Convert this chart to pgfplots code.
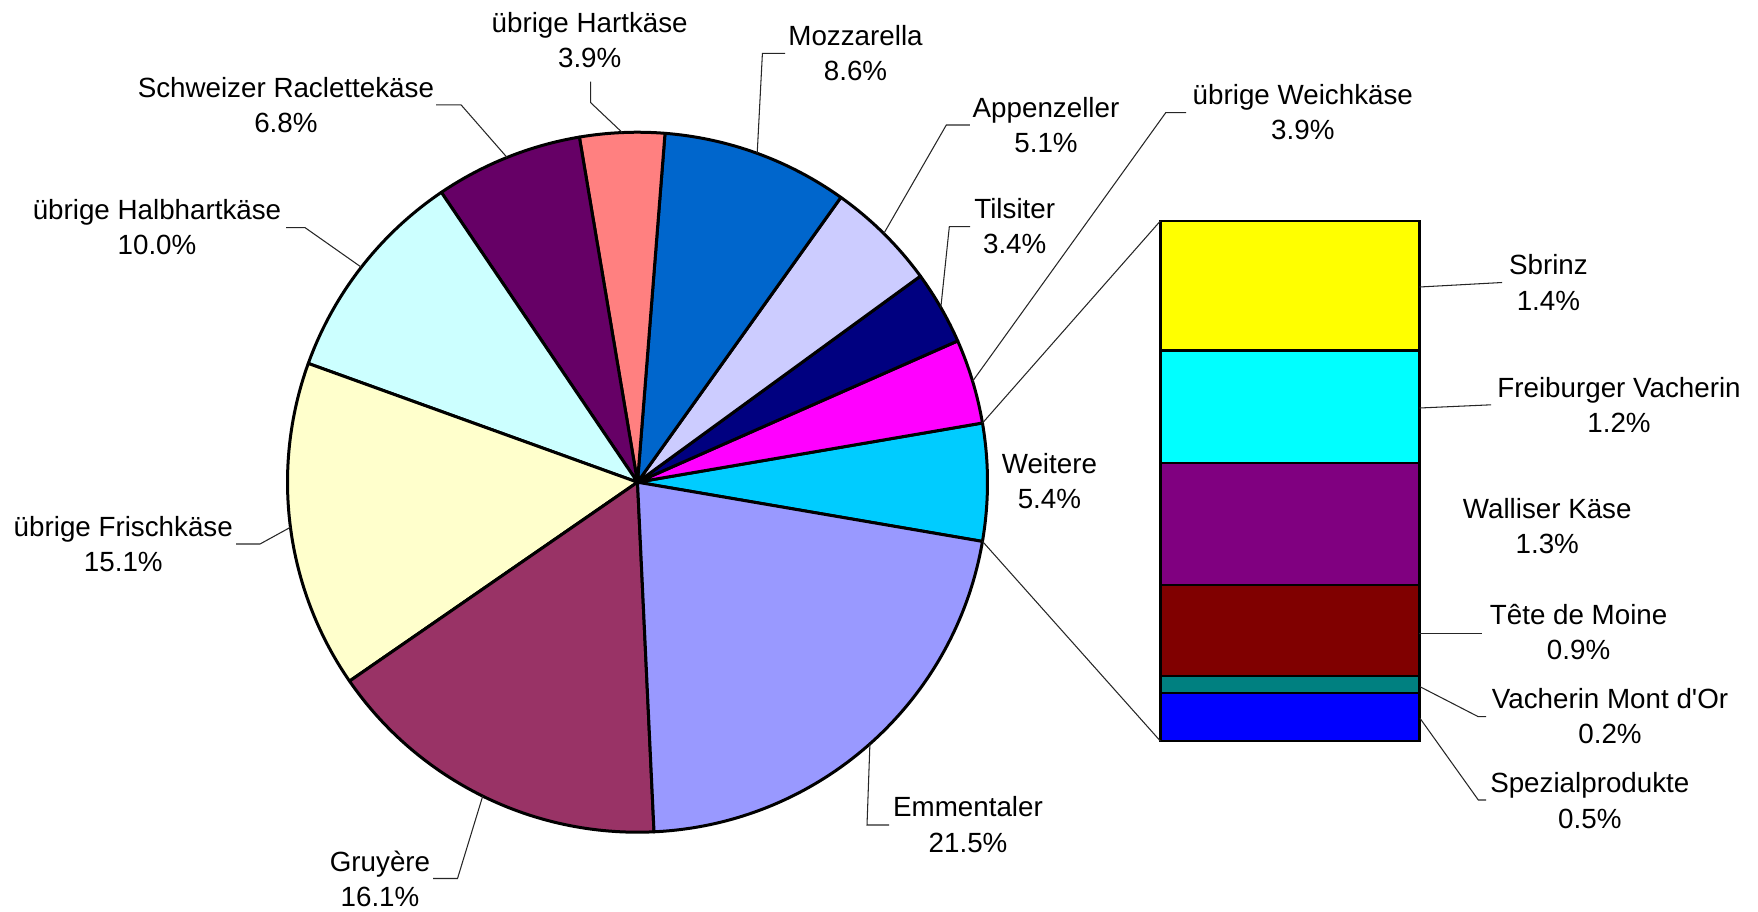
\documentclass[border=0pt]{standalone}
\usepackage{pgfplots}
\pgfplotsset{compat=1.18}
\usepackage{fontspec}
\setmainfont{Liberation Sans}[Ligatures=TeXOff]
\definecolor{cWeitere}{HTML}{00CCFF}
\definecolor{cWeich}{HTML}{FF00FF}
\definecolor{cTilsiter}{HTML}{000080}
\definecolor{cAppenzeller}{HTML}{CCCCFF}
\definecolor{cMozzarella}{HTML}{0066CC}
\definecolor{cHart}{HTML}{FF8080}
\definecolor{cRaclette}{HTML}{660066}
\definecolor{cHalbhart}{HTML}{CCFFFF}
\definecolor{cFrisch}{HTML}{FFFFCC}
\definecolor{cGruyere}{HTML}{993366}
\definecolor{cEmmentaler}{HTML}{9999FF}
\definecolor{cSbrinz}{HTML}{FFFF00}
\definecolor{cFreiburger}{HTML}{00FFFF}
\definecolor{cWalliser}{HTML}{800080}
\definecolor{cTete}{HTML}{800000}
\definecolor{cVMdO}{HTML}{008080}
\definecolor{cSpezial}{HTML}{0000FF}
% pie slice: value (percent), colour; total of the pie = 99.8
\newcommand{\slice}[2]{%
  \pgfmathsetmacro\endang{\startang+#1*360/99.8}%
  \edef\temp{\noexpand\filldraw[fill=#2,draw=black,line width=0.3mm,line join=round]
    (axis cs:0,0) -- (axis cs:{cos(\startang)},{sin(\startang)})
    arc[start angle=\startang,end angle=\endang,radius=35mm] -- cycle;}%
  \temp
  \global\let\startang\endang}
\begin{document}
\begin{tikzpicture}
\path[use as bounding box] (0,0) rectangle (175.8mm,91.1mm);
\gdef\startang{-9.739}
\begin{axis}[at={(63.75mm,42.88mm)},anchor=center,x=35mm,y=35mm,
  xmin=-1,xmax=1,ymin=-1,ymax=1,hide axis,clip=false]
\slice{5.4}{cWeitere}
\slice{3.9}{cWeich}
\slice{3.4}{cTilsiter}
\slice{5.1}{cAppenzeller}
\slice{8.6}{cMozzarella}
\slice{3.9}{cHart}
\slice{6.8}{cRaclette}
\slice{10.0}{cHalbhart}
\slice{15.1}{cFrisch}
\slice{16.1}{cGruyere}
\slice{21.5}{cEmmentaler}
\end{axis}
\begin{axis}[at={(116.04mm,16.99mm)},anchor=south west,scale only axis,
  width=25.9mm,height=52.02mm,xmin=-0.5,xmax=0.5,ymin=0,ymax=5.5,
  hide axis,ybar stacked,bar width=1,clip=false]
\addplot[fill=cSpezial,draw=black,line width=0.25mm] coordinates {(0,0.51)};
\addplot[fill=cVMdO,draw=black,line width=0.25mm] coordinates {(0,0.18)};
\addplot[fill=cTete,draw=black,line width=0.25mm] coordinates {(0,0.96)};
\addplot[fill=cWalliser,draw=black,line width=0.25mm] coordinates {(0,1.29)};
\addplot[fill=cFreiburger,draw=black,line width=0.25mm] coordinates {(0,1.19)};
\addplot[fill=cSbrinz,draw=black,line width=0.25mm] coordinates {(0,1.37)};
\end{axis}
\begin{scope}[x=0.1mm,y=-0.1mm,shift={(0mm,91.1mm)}]
\tikzset{lab/.style={align=center,font=\fontsize{7.9}{10}\selectfont,inner sep=0pt},
  leader/.style={draw=black!85,line width=0.3pt}}
% leader lines
\draw[leader] (622.2,132.5) -- (590.7,102.7) -- (590.7,81.7);
\draw[leader] (757.2,153.3) -- (762.4,53.3) -- (785,53.3);
\draw[leader] (507,157.4) -- (461,104.8) -- (436,104.8);
\draw[leader] (883.8,233.5) -- (946.3,125) -- (969.8,125);
\draw[leader] (972.6,381.2) -- (1165.7,112.7) -- (1186,112.7);
\draw[leader] (361.3,267.2) -- (305,227.6) -- (286,227.6);
\draw[leader] (940.8,307.6) -- (949.3,226.7) -- (970,226.7);
\draw[leader] (290.4,527.3) -- (260,544) -- (236,544);
\draw[leader] (869.9,743.9) -- (867,825) -- (889,825);
\draw[leader] (482.7,796.1) -- (457.5,878.5) -- (433,878.5);
\draw[leader] (1419.4,287) -- (1502,282.5);
\draw[leader] (1419.4,408) -- (1491,404.8);
\draw[leader] (1419.4,633.5) -- (1482,633.5);
\draw[leader] (1420,686.7) -- (1478.3,716.7) -- (1486,716.7);
\draw[leader] (1420,718.3) -- (1478.3,800) -- (1486,800);
% connectors
\draw[leader] (982.5,423) -- (1160.4,220.9);
\draw[leader] (982.5,541.4) -- (1160.4,741.1);
% labels
\node[lab] at (589.7,39.8) {übrige Hartkäse\\3.9\%};
\node[lab] at (855.5,53.3) {Mozzarella\\8.6\%};
\node[lab] at (285.9,104.8) {Schweizer Raclettekäse\\6.8\%};
\node[lab] at (1046,125) {Appenzeller\\5.1\%};
\node[lab] at (1302.8,112.1) {übrige Weichkäse\\3.9\%};
\node[lab] at (157,227) {übrige Halbhartkäse\\10.0\%};
\node[lab] at (1014.7,225.9) {Tilsiter\\3.4\%};
\node[lab] at (1049.4,481) {Weitere\\5.4\%};
\node[lab] at (123.3,543.8) {übrige Frischkäse\\15.1\%};
\node[lab] at (968,824.5) {Emmentaler\\21.5\%};
\node[lab] at (380,878.5) {Gruyère\\16.1\%};
\node[lab] at (1548.4,282.5) {Sbrinz\\1.4\%};
\node[lab] at (1619,404.8) {Freiburger Vacherin\\1.2\%};
\node[lab] at (1547.2,526.4) {Walliser Käse\\1.3\%};
\node[lab] at (1578.6,631.8) {Tête de Moine\\0.9\%};
\node[lab] at (1610,716.4) {Vacherin Mont d'Or\\0.2\%};
\node[lab] at (1589.8,800.5) {Spezialprodukte\\0.5\%};
\end{scope}
\end{tikzpicture}
\end{document}
